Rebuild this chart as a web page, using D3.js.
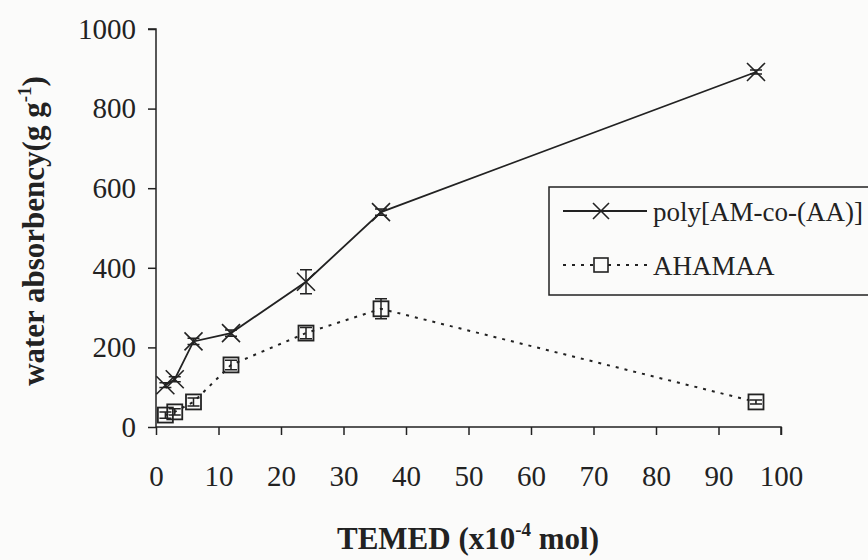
<!DOCTYPE html>
<html lang="en">
<head>
  <meta charset="UTF-8">
  <title>Water absorbency vs TEMED</title>
  <style>
  body { margin: 0; background: #fbfbfa; }
  svg { display: block; }
  </style>
</head>
<body>
<script src="https://cdn.jsdelivr.net/npm/d3@7"></script>
<script>
// values
var temed = [1.5, 3, 6, 12, 24, 36, 96];
var polyValues = [105, 120, 215, 236, 365, 540, 892];
var polyErrors = [6, 6, 8, 8, 30, 8, 5];
var ahamaaValues = [30, 38, 63, 156, 236, 297, 63];
var ahamaaErrors = [8, 8, 10, 12, 14, 25, 5];
var xTicks = [0, 10, 20, 30, 40, 50, 60, 70, 80, 90, 100];
var yTicks = [0, 200, 400, 600, 800, 1000];
var seriesNames = ["poly[AM-co-(AA)]", "AHAMAA"];

var width = 868, height = 560;
var ink = "#222";
var serif = "'Liberation Serif', 'Times New Roman', serif";

var svg = d3.select("body").append("svg").attr("width", width).attr("height", height);

var xScale = d3.scaleLinear().domain([0, 100]).range([156, 781]);
var yScale = d3.scaleLinear().domain([0, 1000]).range([427, 29]);

// axes
var axisx = d3.axisBottom(xScale).tickValues(xTicks).tickSize(8).tickPadding(30).tickFormat(d3.format("d"));
var axisy = d3.axisLeft(yScale).tickValues(yTicks).tickSize(8).tickPadding(12).tickFormat(d3.format("d"));

var gx = svg.append("g").attr("transform", "translate(0," + yScale(0) + ")").call(axisx);
var gy = svg.append("g").attr("transform", "translate(" + xScale(0) + ",0)").call(axisy);
[gx, gy].forEach(function(g) {
  g.attr("font-family", serif).attr("font-size", 29);
  g.select(".domain").attr("stroke", ink).attr("stroke-width", 1.5);
  g.selectAll(".tick line").attr("stroke", ink).attr("stroke-width", 1.5);
  g.selectAll(".tick text").style("font-family", serif).style("font-size", "29px").attr("fill", ink);
});
gx.select(".domain").attr("d", "M" + xScale(0) + ",0H" + xScale(100) + "V8");
gy.select(".domain").attr("d", "M-8," + yScale(1000) + "H0V" + yScale(0));
gx.selectAll(".tick text").attr("dy", "0.71em");

// axis titles
function titleText(t) {
  return t.style("font-family", serif).style("font-weight", "bold").style("font-size", "31px").attr("fill", ink);
}
var xt = titleText(svg.append("text")).attr("x", 468).attr("y", 549).attr("text-anchor", "middle");
xt.append("tspan").text("TEMED (x10");
xt.append("tspan").attr("dy", -13).style("font-size", "19px").text("-4");
xt.append("tspan").attr("dy", 13).text(" mol)");

var yt = titleText(svg.append("text"))
  .attr("transform", "translate(44,231) rotate(-90)").attr("text-anchor", "middle");
yt.append("tspan").text("water absorbency(g g");
yt.append("tspan").attr("dy", -13).style("font-size", "19px").text("-1");
yt.append("tspan").attr("dy", 13).text(")");

function makeRows(vals, errs) {
  return temed.map(function(t, i) { return { x: t, y: vals[i], e: errs[i] }; });
}
var poly = makeRows(polyValues, polyErrors);
var ahamaa = makeRows(ahamaaValues, ahamaaErrors);

var line = d3.line().x(function(d) { return xScale(d.x); }).y(function(d) { return yScale(d.y); });

function drawCross(g, cx, cy, r) {
  g.append("path").attr("d", "M" + (cx - r) + "," + (cy - r) + "L" + (cx + r) + "," + (cy + r) +
      "M" + (cx - r) + "," + (cy + r) + "L" + (cx + r) + "," + (cy - r))
    .attr("stroke", ink).attr("stroke-width", 1.6).attr("fill", "none");
}
function drawSquare(g, cx, cy, r) {
  g.append("rect").attr("x", cx - r).attr("y", cy - r).attr("width", 2 * r).attr("height", 2 * r)
    .attr("stroke", ink).attr("stroke-width", 1.8).attr("fill", "none");
}
function drawErrors(g, rows) {
  rows.forEach(function(d) {
    var cx = xScale(d.x), y1 = yScale(d.y - d.e), y2 = yScale(d.y + d.e);
    g.append("path").attr("d", "M" + cx + "," + y1 + "V" + y2 +
        "M" + (cx - 6) + "," + y1 + "H" + (cx + 6) + "M" + (cx - 6) + "," + y2 + "H" + (cx + 6))
      .attr("stroke", ink).attr("stroke-width", 1.5).attr("fill", "none");
  });
}

// AHAMAA (dotted)
var g2 = svg.append("g");
g2.append("path").datum(ahamaa).attr("d", line).attr("fill", "none")
  .attr("stroke", ink).attr("stroke-width", 2).attr("stroke-dasharray", "3,6");
drawErrors(g2, ahamaa);
ahamaa.forEach(function(d) { drawSquare(g2, xScale(d.x), yScale(d.y), 7.5); });

// poly[AM-co-(AA)] (solid)
var g1 = svg.append("g");
g1.append("path").datum(poly).attr("d", line).attr("fill", "none")
  .attr("stroke", ink).attr("stroke-width", 1.8);
drawErrors(g1, poly);
poly.forEach(function(d) { drawCross(g1, xScale(d.x), yScale(d.y), 9); });

// legend
var lg = svg.append("g");
lg.append("rect").attr("x", 549).attr("y", 187).attr("width", 340).attr("height", 108)
  .attr("fill", "#fbfbfa").attr("stroke", ink).attr("stroke-width", 1.5);
var rowsY = [211, 265];
seriesNames.forEach(function(name, i) {
  var y = rowsY[i];
  var p = lg.append("path").attr("d", "M563," + y + "H647").attr("stroke", ink).attr("fill", "none");
  if (i === 0) {
    p.attr("stroke-width", 1.8);
    drawCross(lg, 601, y, 8);
  } else {
    p.attr("stroke-width", 2).attr("stroke-dasharray", "3,6");
    lg.append("rect").attr("x", 594).attr("y", y - 7).attr("width", 14).attr("height", 14)
      .attr("fill", "#fbfbfa").attr("stroke", ink).attr("stroke-width", 1.6);
  }
  lg.append("text").attr("x", 653).attr("y", y + 10)
    .style("font-family", serif).style("font-size", "27px").attr("fill", ink).text(name);
});
</script>
</body>
</html>
